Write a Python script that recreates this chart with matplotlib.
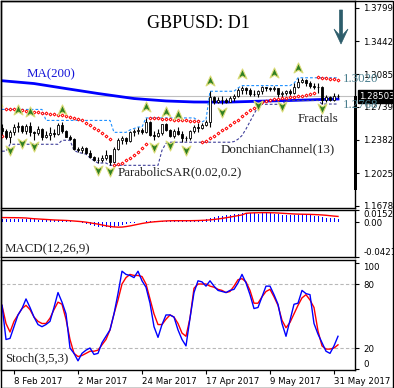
import numpy as np
import pandas as pd
import matplotlib
matplotlib.use("Agg")
import matplotlib.pyplot as plt
import matplotlib.transforms as mtransforms
from matplotlib.path import Path
from matplotlib.patches import Rectangle, Polygon


# %% Data (daily bars, 3 Feb - 1 Jun 2017)

bar_dates = pd.bdate_range("2017-02-03", "2017-06-01")

opens = [1.2510, 1.2480, 1.2410, 1.2470, 1.2520, 1.2530, 1.2480, 1.2530, 1.2470, 1.2460,
         1.2500, 1.2410, 1.2440, 1.2460, 1.2450, 1.2540, 1.2475, 1.2415, 1.2390, 1.2290,
         1.2275, 1.2300, 1.2240, 1.2200, 1.2170, 1.2165, 1.2185, 1.2220, 1.2150, 1.2290,
         1.2380, 1.2400, 1.2370, 1.2470, 1.2480, 1.2490, 1.2470, 1.2570, 1.2440, 1.2420,
         1.2460, 1.2550, 1.2490, 1.2420, 1.2480, 1.2450, 1.2400, 1.2405, 1.2480, 1.2520,
         1.2510, 1.2540, 1.2570, 1.2840, 1.2785, 1.2815, 1.2810, 1.2795, 1.2830, 1.2850,
         1.2920, 1.2940, 1.2915, 1.2875, 1.2880, 1.2905, 1.2950, 1.2935, 1.2925, 1.2940,
         1.2880, 1.2885, 1.2905, 1.2890, 1.2955, 1.3000, 1.3030, 1.2995, 1.2960, 1.2955,
         1.2950, 1.2810, 1.2845, 1.2810, 1.2855]
highs = [1.2550, 1.2500, 1.2490, 1.2550, 1.2580, 1.2540, 1.2550, 1.2575, 1.2480, 1.2530,
         1.2510, 1.2480, 1.2520, 1.2500, 1.2560, 1.2580, 1.2490, 1.2440, 1.2400, 1.2310,
         1.2320, 1.2310, 1.2270, 1.2215, 1.2200, 1.2220, 1.2270, 1.2225, 1.2310, 1.2400,
         1.2420, 1.2410, 1.2480, 1.2500, 1.2520, 1.2510, 1.2615, 1.2585, 1.2475, 1.2500,
         1.2555, 1.2560, 1.2500, 1.2500, 1.2520, 1.2480, 1.2430, 1.2490, 1.2540, 1.2560,
         1.2560, 1.2600, 1.2905, 1.2850, 1.2840, 1.2850, 1.2830, 1.2850, 1.2880, 1.2940,
         1.2965, 1.2950, 1.2940, 1.2920, 1.2920, 1.2960, 1.2955, 1.2955, 1.2962, 1.2945,
         1.2905, 1.2920, 1.2930, 1.2990, 1.3050, 1.3045, 1.3035, 1.3010, 1.2990, 1.2990,
         1.2960, 1.2860, 1.2855, 1.2890, 1.2880]
lows = [1.2440, 1.2390, 1.2345, 1.2440, 1.2470, 1.2460, 1.2450, 1.2430, 1.2385, 1.2440,
        1.2385, 1.2400, 1.2380, 1.2410, 1.2440, 1.2460, 1.2410, 1.2380, 1.2270, 1.2250,
        1.2240, 1.2230, 1.2190, 1.2160, 1.2135, 1.2150, 1.2170, 1.2110, 1.2130, 1.2270,
        1.2340, 1.2340, 1.2360, 1.2430, 1.2450, 1.2450, 1.2460, 1.2430, 1.2380, 1.2410,
        1.2440, 1.2475, 1.2410, 1.2400, 1.2440, 1.2365, 1.2370, 1.2380, 1.2460, 1.2470,
        1.2500, 1.2530, 1.2520, 1.2770, 1.2775, 1.2765, 1.2775, 1.2785, 1.2800, 1.2840,
        1.2880, 1.2880, 1.2855, 1.2855, 1.2840, 1.2880, 1.2910, 1.2905, 1.2910, 1.2845,
        1.2835, 1.2860, 1.2860, 1.2880, 1.2940, 1.2990, 1.2965, 1.2945, 1.2930, 1.2890,
        1.2768, 1.2795, 1.2800, 1.2800, 1.2835]
closes = [1.2480, 1.2410, 1.2470, 1.2520, 1.2530, 1.2480, 1.2530, 1.2470, 1.2460, 1.2500,
          1.2410, 1.2440, 1.2460, 1.2450, 1.2540, 1.2475, 1.2415, 1.2390, 1.2290, 1.2275,
          1.2300, 1.2240, 1.2200, 1.2170, 1.2165, 1.2185, 1.2220, 1.2150, 1.2290, 1.2380,
          1.2400, 1.2370, 1.2470, 1.2480, 1.2490, 1.2470, 1.2570, 1.2440, 1.2420, 1.2460,
          1.2550, 1.2490, 1.2420, 1.2480, 1.2450, 1.2400, 1.2405, 1.2480, 1.2520, 1.2510,
          1.2540, 1.2570, 1.2840, 1.2785, 1.2815, 1.2810, 1.2795, 1.2830, 1.2850, 1.2920,
          1.2940, 1.2915, 1.2875, 1.2880, 1.2905, 1.2950, 1.2935, 1.2925, 1.2940, 1.2880,
          1.2885, 1.2905, 1.2890, 1.2955, 1.3000, 1.3030, 1.2995, 1.2960, 1.2955, 1.2950,
          1.2810, 1.2845, 1.2810, 1.2855, 1.28503]
last_price = 1.28503

# MA(200), only the visible stretch, as read at a few bars
ma_bars = [-0.5, 8, 16, 24, 33, 41, 48, 56, 64, 72, 80, 84]
ma_values = [1.3020, 1.2988, 1.2934, 1.2881, 1.2827, 1.2801, 1.2790, 1.2788,
             1.2798, 1.2806, 1.2817, 1.2822]

# Parabolic SAR(0.02, 0.2)
sar = [1.2427,
       1.2720, 1.2715, 1.2710, 1.2705, 1.2700, 1.2695, 1.2689, 1.2683, 1.2678, 1.2672,
       1.2667, 1.2661, 1.2656, 1.2651, 1.2646, 1.2640, 1.2630, 1.2618, 1.2603, 1.2592,
       1.2565, 1.2539, 1.2512, 1.2486, 1.2459, 1.2427, 1.2395,
       1.2112, 1.2122, 1.2140, 1.2165, 1.2190, 1.2220, 1.2255, 1.2295, 1.2340,
       1.2619, 1.2616, 1.2613, 1.2610, 1.2607, 1.2604, 1.2601, 1.2598, 1.2595, 1.2592,
       1.2589, 1.2586, 1.2582,
       1.2365, 1.2375, 1.2400, 1.2430, 1.2460, 1.2490, 1.2515, 1.2540, 1.2570, 1.2600,
       1.2635, 1.2670, 1.2700, 1.2730, 1.2760, 1.2785, 1.2800, 1.2810, 1.2818, 1.2825,
       1.2830, 1.2835, 1.2840, 1.2845, 1.2850, 1.2858, 1.2866, 1.2875, 1.2885,
       1.3055, 1.3050, 1.3044, 1.3038, 1.3032, 1.3026]

# Donchian channel(13)
donchian_up = ([1.2710] * 11 + [1.2592] * 17 + [1.2464] * 4
               + [1.2490, 1.2505, 1.2521, 1.2521] + [1.2619] * 13
               + [1.2590, 1.2575, 1.2600] + [1.2905] * 7 + [1.2940]
               + [1.2966] * 13 + [1.2990] + [1.3050] * 11)
donchian_dn = ([1.2262] * 2 + [1.2336] * 13 + [1.2379] * 3
               + [1.2270, 1.2250, 1.2240, 1.2230, 1.2190, 1.2160] + [1.2135] * 3
               + [1.2110] * 13 + [1.2272, 1.2347] + [1.2358] * 16
               + [1.2365, 1.2390, 1.2430, 1.2500, 1.2580, 1.2660, 1.2740]
               + [1.2765] * 6 + [1.2806] * 9 + [1.2768] * 5)

# Fractals: bar and the level the arrow is drawn at
frac_up_bars = [-1, 4, 7, 15, 36, 41, 44, 52, 60, 68, 74]
frac_up_levels = [1.2785, 1.2699, 1.2678, 1.2699, 1.2731, 1.2678, 1.2646,
                  1.3020, 1.3094, 1.3105, 1.3158]
frac_dn_bars = [2, 5, 8, 24, 27, 38, 42, 46, 55, 64, 70, 80]
frac_dn_levels = [1.2272, 1.2347, 1.2315, 1.2058, 1.2048, 1.2304, 1.2325,
                  1.2272, 1.2678, 1.2763, 1.2742, 1.2721]

# MACD(12,26,9): main line as histogram + signal line
macd_main = [0.0045, 0.0046, 0.0045, 0.0044, 0.0044, 0.0043,
             0.0041, 0.0040, 0.0038, 0.0036, 0.0033, 0.0031, 0.0030,
             0.0030, 0.0031, 0.0030, 0.0027,
             0.0020, 0.0010, 0.0002,
             -0.0010, -0.0020, -0.0030, -0.0040,
             -0.0050, -0.0056, -0.0060, -0.0062, -0.0055,
             -0.0045, -0.0032, -0.0020, -0.0010, -0.0003,
             0.0002, 0.0008,
             0.0015, 0.0018, 0.0015, 0.0016, 0.0020,
             0.0022, 0.0022, 0.0023, 0.0022, 0.0020, 0.0020, 0.0022, 0.0026, 0.0030, 0.0034,
             0.0040, 0.0055, 0.0065, 0.0075, 0.0082,
             0.0088, 0.0095, 0.0102, 0.0108, 0.0114,
             0.0115, 0.0113, 0.0110, 0.0108, 0.0110, 0.0112, 0.0112, 0.0108,
             0.0100, 0.0092, 0.0088, 0.0088, 0.0090, 0.0094,
             0.0098, 0.0096, 0.0090, 0.0084, 0.0080,
             0.0068, 0.0060, 0.0055, 0.0050, 0.0045]
macd_signal = [0.0060, 0.0060, 0.0059, 0.0059, 0.0058, 0.0057, 0.0055,
               0.0050, 0.0046, 0.0043,
               0.0040, 0.0037, 0.0034, 0.0031, 0.0029, 0.0027, 0.0025,
               0.0022, 0.0018, 0.0014, 0.0010,
               0.0004, -0.0004, -0.0012,
               -0.0020, -0.0030, -0.0040, -0.0048, -0.0054, -0.0057, -0.0056,
               -0.0050, -0.0042, -0.0032,
               -0.0022, -0.0012, -0.0004, 0.0003,
               0.0008, 0.0012, 0.0016, 0.0019,
               0.0021, 0.0022, 0.0022, 0.0022, 0.0022, 0.0022, 0.0023, 0.0024, 0.0026, 0.0028,
               0.0032, 0.0037, 0.0043, 0.0050, 0.0058,
               0.0066, 0.0075, 0.0084, 0.0092,
               0.0112, 0.0116, 0.0118, 0.0119, 0.0120, 0.0120, 0.0119, 0.0118, 0.0116,
               0.0113, 0.0110, 0.0107, 0.0104, 0.0102, 0.0101,
               0.0100, 0.0099, 0.0097, 0.0095, 0.0092, 0.0088,
               0.0083, 0.0078, 0.0074]

# Stochastic(3,5,3)
stoch_k = [60, 28, 29, 40, 51, 57, 66, 58, 49, 42, 40, 42, 45, 58, 72, 63, 52, 20, 15, 8,
           15, 18, 20, 14, 15, 25, 31, 37, 52, 71, 92, 89, 88, 86, 92, 83, 77, 62, 40, 30,
           42, 51, 51, 49, 37, 28, 22, 48, 72, 83, 82, 78, 83, 78, 74, 73, 72, 74, 75, 81,
           89, 81, 70, 57, 58, 68, 78, 78, 70, 61, 43, 31, 46, 61, 62, 74, 71, 70, 43, 33,
           25, 17, 15, 22, 31]
stoch_d = [60, 43, 35, 45, 51, 57, 60, 56, 49, 45, 43, 43, 48, 56, 63, 61, 47, 28, 15, 12,
           13, 15, 17, 17, 18, 23, 28, 37, 52, 65, 80, 86, 89, 88, 88, 87, 80, 66, 52, 42,
           42, 47, 51, 49, 43, 34, 31, 48, 76, 80, 80, 80, 78, 77, 75, 74, 72, 73, 78, 84,
           85, 82, 74, 62, 62, 68, 73, 75, 68, 60, 46, 39, 44, 52, 60, 67, 70, 65, 58, 36,
           22, 19, 19, 20, 23]

date_ticks = ["2017-02-08", "2017-03-02", "2017-03-24", "2017-04-17", "2017-05-09", "2017-05-31"]
main_ticks = [1.16786, 1.20251, 1.23821, 1.27391, 1.30856, 1.34426, 1.37996]


# %% Figure layout (pixel boxes of the MT4 window)

W, H = 394, 388
fig = plt.figure(figsize=(W / 100, H / 100), dpi=100)
fig.patch.set_facecolor("white")

def px_axes(x0, y0, x1, y1):
    return fig.add_axes([x0 / W, 1 - y1 / H, (x1 - x0) / W, (y1 - y0) / H])

ax = px_axes(1, 1, 355, 208)
ax_macd = px_axes(1, 210, 355, 257)
ax_st = px_axes(1, 260, 355, 370)

x = np.arange(len(closes))
o = np.array(opens)
c = np.array(closes)
hi = np.array(highs)
lo = np.array(lows)

label_font = dict(family="Liberation Serif", size=9.3)

for a in (ax, ax_macd, ax_st):
    a.set_xlim(-0.25, 88.25)
    for s in a.spines.values():
        s.set_color("black")
        s.set_linewidth(1)
    a.yaxis.tick_right()
    a.tick_params(axis="y", direction="out", length=3, width=0.8, pad=3,
                  labelsize=6.2, colors="black")
    a.tick_params(axis="x", bottom=False, labelbottom=False)


# %% Main price panel

ax.set_ylim(1.1652, 1.3874)
ax.axhline(last_price, color="#c0c0c0", lw=0.8, zorder=1)

ax.plot(ma_bars, ma_values, color="#0000ff", lw=2.0, zorder=2)

ax.plot(x, donchian_up, color="#1e90ff", lw=0.8, dashes=(2.5, 1.8), zorder=2)
ax.plot(x, donchian_dn, color="#3f3f9a", lw=0.8, dashes=(2.5, 1.8), zorder=2)

ax.vlines(x, lo, hi, color="black", lw=0.8, zorder=3)
body_col = np.where(c >= o, "white", "black")
body_h = np.maximum(np.abs(c - o), 0.0003)
ax.bar(x, body_h, bottom=np.minimum(o, c), width=0.7, color=body_col,
       edgecolor="black", linewidth=0.6, zorder=4)

ax.plot(x, sar, ls="none", marker="D", ms=1.5, mfc="white", mec="red", mew=0.7, zorder=5)

up_arrow = Path([(0, 1), (0.8, -0.8), (0, -0.3), (-0.8, -0.8), (0, 1)],
                [Path.MOVETO, Path.LINETO, Path.LINETO, Path.LINETO, Path.CLOSEPOLY])
dn_arrow = Path([(0, -1), (0.8, 0.8), (0, 0.3), (-0.8, 0.8), (0, -1)],
                [Path.MOVETO, Path.LINETO, Path.LINETO, Path.LINETO, Path.CLOSEPOLY])
ax.plot(frac_up_bars, frac_up_levels, ls="none", marker=up_arrow, ms=8,
        mfc="#2f7f22", mec="#dcdc78", mew=0.8, zorder=6)
ax.plot(frac_dn_bars, frac_dn_levels, ls="none", marker=dn_arrow, ms=8,
        mfc="#2f7f22", mec="#dcdc78", mew=0.8, zorder=6)

ax.set_yticks(main_ticks, [f"{t:.5f}" for t in main_ticks])
ax.set_xticks([])

trans = mtransforms.blended_transform_factory(ax.transAxes, ax.transData)
ax.text(1.012, last_price, f"{last_price:.5f}", transform=trans, ha="left", va="center",
        color="white", clip_on=False, zorder=10, fontfamily="DejaVu Sans", fontsize=6.2,
        bbox=dict(boxstyle="square,pad=0.2", fc="black", ec="black"))


# %% MACD panel

ax_macd.set_ylim(-0.04214, 0.01525)
ax_macd.bar(x, macd_main, width=0.25, color="#0000ff", zorder=2)
ax_macd.plot(x, macd_signal, color="red", lw=1.0, zorder=3)
ax_macd.set_yticks([-0.04214, 0.0, 0.01525], ["-0.04214", "0.00", "0.01525"])
ax_macd.set_xticks([])
mt = ax_macd.yaxis.get_major_ticks()
mt[0].label2.set_va("bottom")
mt[2].label2.set_va("top")


# %% Stochastic panel

ax_st.set_ylim(-0.6, 102.5)
for lvl in (20, 80):
    ax_st.axhline(lvl, color="#b8b8b8", lw=0.8, dashes=(3, 2), zorder=1)
ax_st.plot(x, stoch_k, color="#0000ff", lw=1.0, zorder=3)
ax_st.plot(x, stoch_d, color="red", lw=1.0, zorder=2)
ax_st.set_yticks([0, 20, 80, 100], ["0", "20", "80", "100"])
st = ax_st.yaxis.get_major_ticks()
st[0].label2.set_va("bottom")
st[3].label2.set_va("top")

tick_pos = [bar_dates.get_loc(pd.Timestamp(d)) for d in date_ticks]
tick_lab = [f"{pd.Timestamp(d).day} {pd.Timestamp(d):%b %Y}" for d in date_ticks]
ax_st.set_xticks(tick_pos, tick_lab)
ax_st.tick_params(axis="x", bottom=True, labelbottom=True, direction="out",
                  length=3, width=0.8, pad=2, labelsize=6.2)
for lab in ax_st.get_xticklabels():
    lab.set_ha("left")


# %% Overlay: labels, arrow, frame (pixel coordinates)

ov = fig.add_axes([0, 0, 1, 1], zorder=20)
ov.set_xlim(0, W)
ov.set_ylim(H, 0)
ov.axis("off")
ov.patch.set_alpha(0)

ov.text(198, 24, "GBPUSD: D1", ha="center", va="center", family="Liberation Serif",
        size=13, color="black")
ov.text(27, 74, "MA(200)", ha="left", va="center", color="#1414d8", **label_font)
ov.text(118, 172, "ParabolicSAR(0.02,0.2)", ha="left", va="center", color="#222222", **label_font)
ov.text(221, 149, "DonchianChannel(13)", ha="left", va="center", color="#222222", **label_font)
ov.text(298, 119, "Fractals", ha="left", va="center", color="#222222", **label_font)
ov.text(343, 79, "1.3020", ha="left", va="center", color="#4a7f8e", **label_font)
ov.text(343, 105, "1.2768", ha="left", va="center", color="#4a7f8e", **label_font)
ov.text(5, 249, "MACD(12,26,9)", ha="left", va="center", color="#222222", **label_font)
ov.text(5, 358, "Stoch(3,5,3)", ha="left", va="center", color="#222222", **label_font)

# trend arrow in the top right corner
ov.add_patch(Polygon([(339.5, 10), (342.5, 10), (342.5, 35), (348, 29), (341, 44),
                      (334, 29), (339.5, 35)], closed=True, fc="#2d5d6b", ec="#2d5d6b", lw=0.5))

# black bar on the right edge of the price panel
ov.add_patch(Rectangle((354.5, 96), 3, 94, fc="black", ec="none"))

# window frame
ov.add_patch(Rectangle((0.5, 0.5), W - 1, H - 1, fill=False, ec="black", lw=1))

fig.savefig("out.png", dpi=100)
